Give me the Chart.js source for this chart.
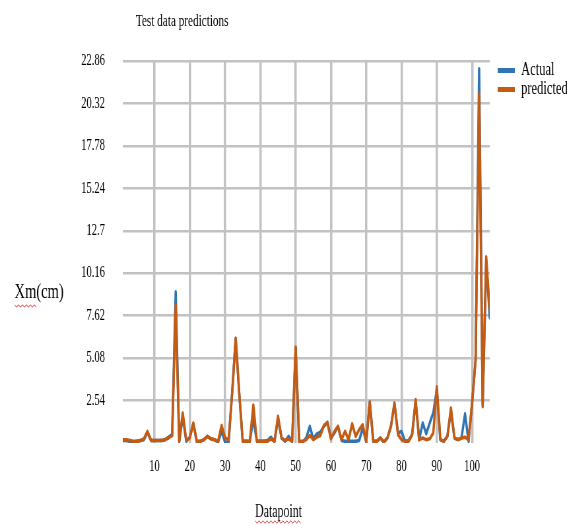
<!DOCTYPE html>
<html>
<head>
<meta charset="utf-8">
<script src="https://cdn.jsdelivr.net/npm/chart.js@4.4.1/dist/chart.umd.min.js"></script>
<style>
  html, body { margin: 0; padding: 0; background: #fff; overflow: hidden; }
  /* chart is laid out wide, then squeezed horizontally for the narrow serif look */
  #wrap { width: 859px; height: 530px; transform: scaleX(0.66); transform-origin: 0 0; }
</style>
</head>
<body>
<div id="wrap"><canvas id="chart" width="859" height="530"></canvas></div>
<script>
const datapoints = Array.from({ length: 105 }, (_, i) => i + 1);

const actual = [
  0.15, 0.15, 0.1, 0.05, 0.1, 0.15, 0.2, 0.65, 0.15, 0.15,
  0.15, 0.15, 0.2, 0.35, 0.5, 9.05, 0.1, 1.55, 0.1, 0.35,
  1.15, 0.05, 0.1, 0.2, 0.4, 0.25, 0.2, 0.05, 0.7, 0.05,
  0.05, 3.0, 6.27, 3.0, 0.1, 0.1, 0.1, 1.45, 0.1, 0.1,
  0.1, 0.15, 0.35, 0.1, 1.45, 0.3, 0.1, 0.4, 0.1, 5.7,
  0.05, 0.05, 0.3, 1.0, 0.25, 0.55, 0.65, 1.0, 1.25, 0.3,
  0.6, 1.0, 0.15, 0.1, 0.1, 0.1, 0.1, 0.15, 0.9, 0.05,
  2.45, 0.1, 0.1, 0.3, 0.05, 0.3, 1.0, 2.35, 0.6, 0.7,
  0.1, 0.15, 0.5, 2.45, 0.2, 1.2, 0.55, 1.2, 1.8, 3.2,
  0.2, 0.1, 0.4, 1.9, 0.3, 0.2, 0.3, 1.75, 0.1, 2.4,
  5.0, 22.4, 2.3, 10.9, 7.5
];

const predicted = [
  0.2, 0.2, 0.15, 0.1, 0.1, 0.15, 0.25, 0.7, 0.15, 0.15,
  0.15, 0.15, 0.2, 0.3, 0.45, 8.26, 0.1, 1.8, 0.15, 0.3,
  1.2, 0.1, 0.1, 0.2, 0.4, 0.25, 0.2, 0.1, 1.05, 0.3,
  0.2, 3.0, 6.27, 3.0, 0.1, 0.1, 0.1, 2.27, 0.1, 0.1,
  0.1, 0.1, 0.25, 0.1, 1.6, 0.3, 0.15, 0.25, 0.1, 5.75,
  0.1, 0.1, 0.2, 0.45, 0.2, 0.35, 0.45, 1.05, 1.2, 0.25,
  0.7, 1.0, 0.2, 0.7, 0.2, 1.15, 0.4, 0.8, 1.1, 0.1,
  2.45, 0.1, 0.1, 0.3, 0.05, 0.3, 1.0, 2.4, 0.5, 0.2,
  0.1, 0.1, 0.5, 2.6, 0.2, 0.3, 0.2, 0.25, 0.6, 3.37,
  0.2, 0.1, 0.4, 2.1, 0.3, 0.2, 0.3, 0.35, 0.2, 2.4,
  5.0, 20.9, 2.17, 11.15, 8.0
];

const xTicks = [10, 20, 30, 40, 50, 60, 70, 80, 90, 100];
const yTicks = [2.54, 5.08, 7.62, 10.16, 12.7, 15.24, 17.78, 20.32, 22.86];

const seriesNames = ['Actual', 'predicted'];
const seriesColors = ['#2E75B6', '#C55A11'];

const chartTitle = 'Test data predictions';
const xTitle = 'Datapoint';
const yTitle = 'Xm(cm)';

Chart.defaults.font.family = '"Liberation Serif", "Times New Roman", serif';
Chart.defaults.color = '#000';

// red spell-check style wave under a word
function squiggle(ctx, x0, x1, y) {
  ctx.beginPath();
  for (let x = x0, k = 0; x <= x1; x += 3, k++) {
    ctx.lineTo(x, y + (k % 2 ? 1.2 : -1.2));
  }
  ctx.stroke();
}

const textLabels = {
  id: 'textLabels',
  afterDraw(chart) {
    const ctx = chart.ctx;
    ctx.save();
    ctx.fillStyle = '#000';
    ctx.textBaseline = 'middle';

    ctx.font = '17px "Liberation Serif"';
    ctx.textAlign = 'center';
    ctx.fillText(chartTitle, 276, 22);

    ctx.font = '18px "Liberation Serif"';
    ctx.fillText(xTitle, 422, 512);
    const xw = ctx.measureText(xTitle).width;

    ctx.font = '22px "Liberation Serif"';
    ctx.textAlign = 'left';
    ctx.fillText(yTitle, 22, 292);
    const mw = ctx.measureText('Xm').width;

    ctx.strokeStyle = '#D9363E';
    ctx.lineWidth = 1;
    squiggle(ctx, 22, 22 + mw, 306);
    squiggle(ctx, 422 - xw / 2, 422 + xw / 2, 522);
    ctx.restore();
  }
};

const makeSeries = (values) => values.map((y, i) => ({ x: datapoints[i], y }));

new Chart(document.getElementById('chart'), {
  type: 'line',
  data: {
    datasets: [
      {
        label: seriesNames[0],
        data: makeSeries(actual),
        borderColor: seriesColors[0],
        backgroundColor: seriesColors[0],
        order: 1
      },
      {
        label: seriesNames[1],
        data: makeSeries(predicted),
        borderColor: seriesColors[1],
        backgroundColor: seriesColors[1],
        order: 0
      }
    ].map(d => Object.assign(d, {
      xAxisID: 'x',
      yAxisID: 'y',
      borderWidth: 3.5,
      pointRadius: 0,
      tension: 0,
      borderJoinStyle: 'round',
      borderCapStyle: 'round'
    }))
  },
  options: {
    responsive: false,
    animation: false,
    devicePixelRatio: 1,
    layout: { padding: { top: 61, left: 0, right: 0, bottom: 0 } },
    scales: {
      x: {
        type: 'linear',
        position: 'bottom',
        min: 1,
        max: 105,
        afterBuildTicks: s => { s.ticks = xTicks.map(value => ({ value })); },
        afterFit: s => { s.height = 87; },
        grid: { color: '#C2C2C2', lineWidth: 3.5, drawTicks: false },
        border: { display: false },
        ticks: {
          autoSkip: false,
          maxRotation: 0,
          padding: 14,
          font: { size: 16 },
          callback: v => String(v)
        }
      },
      y: {
        type: 'linear',
        position: 'left',
        min: 0,
        max: 22.86,
        afterBuildTicks: s => { s.ticks = yTicks.map(value => ({ value })); },
        afterFit: s => { s.width = 186; },
        grid: { color: '#C2C2C2', lineWidth: 2.5, drawTicks: false },
        border: { display: false },
        ticks: {
          padding: 27,
          font: { size: 16 },
          callback: v => String(v)
        }
      },
      // empty strip between plot and legend
      gap: {
        type: 'linear',
        position: 'right',
        grid: { display: false },
        border: { display: false },
        ticks: { display: false },
        afterFit: s => { s.width = 12; }
      }
    },
    plugins: {
      title: { display: false },
      tooltip: { enabled: false },
      legend: {
        position: 'right',
        align: 'start',
        fullSize: false,
        maxWidth: 105,
        labels: {
          boxWidth: 26,
          boxHeight: 5,
          padding: 0,
          color: '#000',
          font: { size: 19 },
          generateLabels(chart) {
            const items = Chart.defaults.plugins.legend.labels.generateLabels(chart);
            items.forEach(it => { it.lineWidth = 0; });
            return items.sort((a, b) => a.datasetIndex - b.datasetIndex);
          }
        }
      }
    }
  },
  plugins: [textLabels]
});
</script>
</body>
</html>
